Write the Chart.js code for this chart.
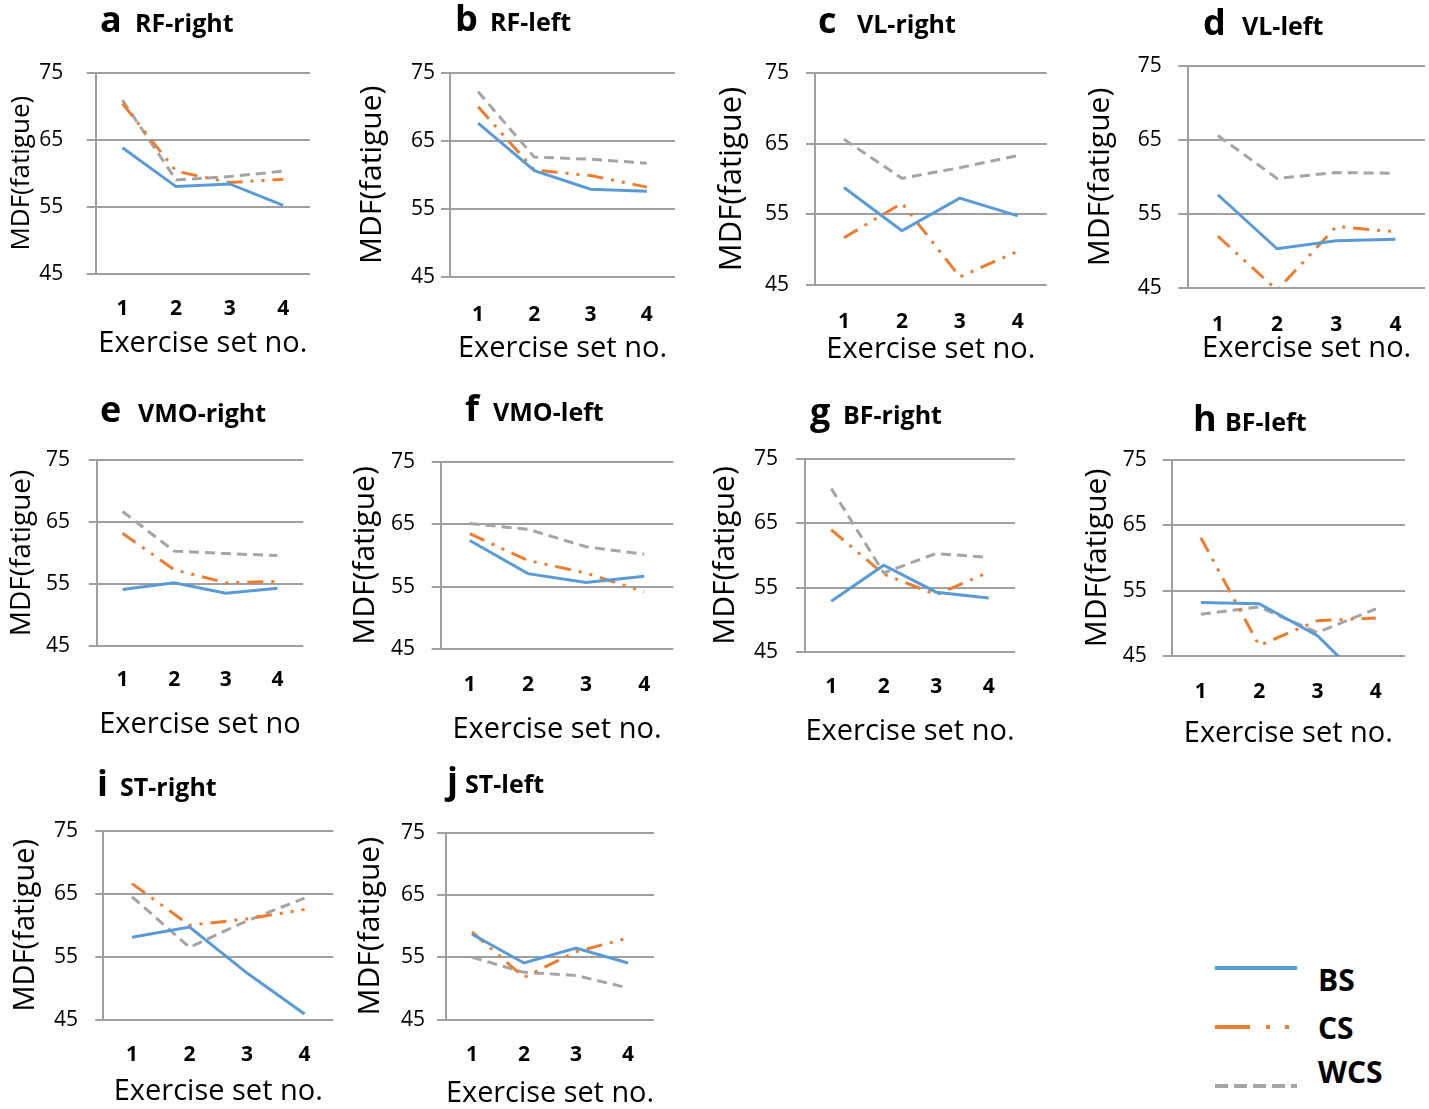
<!DOCTYPE html>
<html>
<head>
<meta charset="utf-8">
<script src="https://cdn.jsdelivr.net/npm/chart.js@4.4.1/dist/chart.umd.min.js"></script>
<style>
  html, body { margin: 0; padding: 0; background: #fff; overflow: hidden; width: 1429px; height: 1109px; }
  canvas { position: absolute; }
  #legend { position: absolute; left: 0; top: 0; }
</style>
</head>
<body>
<svg id="legend" width="1429" height="1109" font-family="'Open Sans', sans-serif" font-weight="bold" font-size="30">
  <line x1="1215" y1="968" x2="1297" y2="968" stroke="#5B9BD5" stroke-width="4"/>
  <text x="1318" y="991">BS</text>
  <line x1="1215" y1="1027" x2="1291" y2="1027" stroke="#ED7D31" stroke-width="4" stroke-dasharray="35 16 4 15 4 100"/>
  <text x="1318" y="1039">CS</text>
  <line x1="1215" y1="1086" x2="1297" y2="1086" stroke="#A5A5A5" stroke-width="4" stroke-dasharray="13 6"/>
  <text x="1318" y="1083">WCS</text>
</svg>
<script>
// x categories and y ticks
const categories = ['1', '2', '3', '4'];
const yMin = 45, yMax = 75, yStep = 10;

const panelLetters = ['a', 'b', 'c', 'd', 'e', 'f', 'g', 'h', 'i', 'j'];
const panelNames = ['RF-right', 'RF-left', 'VL-right', 'VL-left', 'VMO-right',
                    'VMO-left', 'BF-right', 'BF-left', 'ST-right', 'ST-left'];
const xTitles = ['Exercise set no.', 'Exercise set no.', 'Exercise set no.', 'Exercise set no.',
                 'Exercise set no', 'Exercise set no.', 'Exercise set no.', 'Exercise set no.',
                 'Exercise set no.', 'Exercise set no.'];

// MDF values per panel (a..j), sets 1-4
const bsValues = [
  [63.8, 58.0, 58.4, 55.2],
  [67.6, 60.6, 57.9, 57.6],
  [58.8, 52.7, 57.3, 54.8],
  [57.6, 50.3, 51.4, 51.6],
  [54.1, 55.2, 53.5, 54.3],
  [62.4, 57.1, 55.7, 56.7],
  [52.9, 58.5, 54.3, 53.4],
  [53.2, 53.0, 48.1, 39.3],
  [58.1, 59.7, 52.4, 45.9],
  [58.7, 54.1, 56.5, 54.1]
];
const csValues = [
  [70.4, 60.3, 58.6, 59.1],
  [70.0, 60.7, 59.9, 58.2],
  [51.7, 56.6, 46.2, 49.8],
  [52.0, 44.7, 53.3, 52.6],
  [63.2, 57.3, 55.2, 55.4],
  [63.5, 59.2, 57.2, 54.2],
  [64.0, 57.1, 53.9, 57.4],
  [63.1, 46.6, 50.4, 50.8],
  [66.6, 60.0, 61.0, 62.5],
  [59.1, 51.8, 55.9, 58.1]
];
const wcsValues = [
  [70.9, 59.0, 59.5, 60.3],
  [72.2, 62.6, 62.3, 61.7],
  [65.6, 60.1, 61.6, 63.3],
  [65.6, 59.8, 60.6, 60.5],
  [66.7, 60.3, 59.9, 59.6],
  [65.1, 64.2, 61.4, 60.2],
  [70.4, 57.3, 60.3, 59.7],
  [51.4, 52.5, 48.6, 52.2],
  [64.5, 56.5, 60.7, 64.3],
  [55.0, 52.6, 52.1, 50.1]
];

// where each small plot sits on the page
const layouts = [
  { L: 95.7,   R: 310,    T: 72.7,  B: 271.7,  tick: 9,  yLabR: 63.3,   yTitleX: 22,     yTF: 26, xLabelY: 307,  xTitleY: 342,   letterX: 100,  nameX: 135,  baseY: 32 },
  { L: 450,    R: 675,    T: 72.7,  B: 275,    tick: 9,  yLabR: 435,    yTitleX: 371.7,  yTF: 30, xLabelY: 313,  xTitleY: 347,   letterX: 455,  nameX: 490,  baseY: 31 },
  { L: 815,    R: 1046.7, T: 72.7,  B: 283.3,  tick: 9,  yLabR: 789,    yTitleX: 733,    yTF: 31, xLabelY: 320,  xTitleY: 348,   letterX: 818,  nameX: 857,  baseY: 33 },
  { L: 1188.3, R: 1425,   T: 66,    B: 286,    tick: 10, yLabR: 1161.7, yTitleX: 1100,   yTF: 30, xLabelY: 323,  xTitleY: 347,   letterX: 1203, nameX: 1242, baseY: 35 },
  { L: 96.7,   R: 303.3,  T: 460,   B: 644,    tick: 8,  yLabR: 70,     yTitleX: 21.7,   yTF: 28, xLabelY: 678,  xTitleY: 723,   letterX: 100,  nameX: 138,  baseY: 422 },
  { L: 440.7,  R: 673.3,  T: 461.7, B: 647.3,  tick: 9,  yLabR: 415,    yTitleX: 365,    yTF: 30, xLabelY: 683,  xTitleY: 728,   letterX: 465,  nameX: 493,  baseY: 421 },
  { L: 805,    R: 1015,   T: 459,   B: 650,    tick: 9,  yLabR: 778,    yTitleX: 725,    yTF: 30, xLabelY: 685,  xTitleY: 730,   letterX: 810,  nameX: 843,  baseY: 424 },
  { L: 1171.7, R: 1405,   T: 460,   B: 654,    tick: 9,  yLabR: 1146.7, yTitleX: 1096.7, yTF: 30, xLabelY: 690,  xTitleY: 731.7, letterX: 1193, nameX: 1225, baseY: 431 },
  { L: 103.3,  R: 333.3,  T: 830.7, B: 1017.7, tick: 8,  yLabR: 78,     yTitleX: 25,     yTF: 29, xLabelY: 1053, xTitleY: 1090,  letterX: 97,   nameX: 120,  baseY: 796 },
  { L: 446,    R: 654,    T: 832.7, B: 1017.7, tick: 9,  yLabR: 425,    yTitleX: 370,    yTF: 30, xLabelY: 1053, xTitleY: 1092,  letterX: 447,  nameX: 465,  baseY: 793 }
];

const FONT = "'Open Sans', sans-serif";
const BLUE = '#5B9BD5', ORANGE = '#ED7D31', GRAY = '#A5A5A5', GRID = '#A0A0A0';
const YTICK_SIZE = 21, XTICK_SIZE = 21, XTITLE_SIZE = 29;

// draws the bold panel letter + muscle name above each plot
const panelTitle = {
  id: 'panelTitle',
  afterDraw(chart, args, opts) {
    const ctx = chart.ctx;
    ctx.save();
    ctx.fillStyle = '#000';
    ctx.textAlign = 'left';
    ctx.textBaseline = 'alphabetic';
    ctx.font = 'bold 36px ' + FONT;
    ctx.fillText(opts.letter, opts.letterX, opts.baseY);
    ctx.font = 'bold 25px ' + FONT;
    ctx.fillText(opts.name, opts.nameX, opts.baseY);
    ctx.restore();
  }
};

layouts.forEach((p, i) => {
  const cL = Math.round(p.yTitleX - 0.6 * p.yTF);
  const cT = Math.round(p.baseY - 42);
  const cR = Math.round(p.R + 8);
  const cB = Math.round(p.xTitleY + 0.6 * XTITLE_SIZE + 2);

  const canvas = document.createElement('canvas');
  canvas.width = cR - cL;
  canvas.height = cB - cT;
  canvas.style.left = cL + 'px';
  canvas.style.top = cT + 'px';
  document.body.appendChild(canvas);

  new Chart(canvas, {
    type: 'line',
    data: {
      labels: categories,
      datasets: [
        { label: 'BS', data: bsValues[i], borderColor: BLUE, borderWidth: 3, pointRadius: 0, tension: 0 },
        { label: 'CS', data: csValues[i], borderColor: ORANGE, borderWidth: 3, borderDash: [16, 8, 3, 8, 3, 8], pointRadius: 0, tension: 0 },
        { label: 'WCS', data: wcsValues[i], borderColor: GRAY, borderWidth: 3, borderDash: [10, 6], pointRadius: 0, tension: 0 }
      ]
    },
    options: {
      responsive: false,
      animation: false,
      layout: { padding: { left: 0, top: p.T - cT, right: cR - p.R, bottom: 0 } },
      plugins: {
        legend: { display: false },
        tooltip: { enabled: false },
        panelTitle: {
          letter: panelLetters[i], name: panelNames[i],
          letterX: p.letterX - cL, nameX: p.nameX - cL, baseY: p.baseY - cT
        }
      },
      scales: {
        x: {
          offset: true,
          grid: { display: false, drawTicks: false },
          border: { display: false },
          ticks: { font: { family: FONT, size: XTICK_SIZE, weight: 'bold' }, color: '#000',
                   padding: p.xLabelY - p.B - 0.6 * XTICK_SIZE, maxRotation: 0 },
          title: { display: true, text: xTitles[i], color: '#000', padding: 0,
                   font: { family: FONT, size: XTITLE_SIZE } },
          afterFit: s => { s.height = (cB - 2) - p.B; }
        },
        y: {
          min: yMin, max: yMax,
          ticks: { stepSize: yStep, font: { family: FONT, size: YTICK_SIZE }, color: '#000',
                   padding: (p.L - p.tick) - p.yLabR },
          grid: { color: GRID, lineWidth: 2, tickLength: p.tick, drawTicks: true },
          border: { display: true, color: GRID, width: 2 },
          title: { display: true, text: 'MDF(fatigue)', color: '#000', padding: 0,
                   font: { family: FONT, size: p.yTF } },
          afterFit: s => { s.width = p.L - cL; }
        }
      }
    },
    plugins: [panelTitle]
  });
});
</script>
</body>
</html>
